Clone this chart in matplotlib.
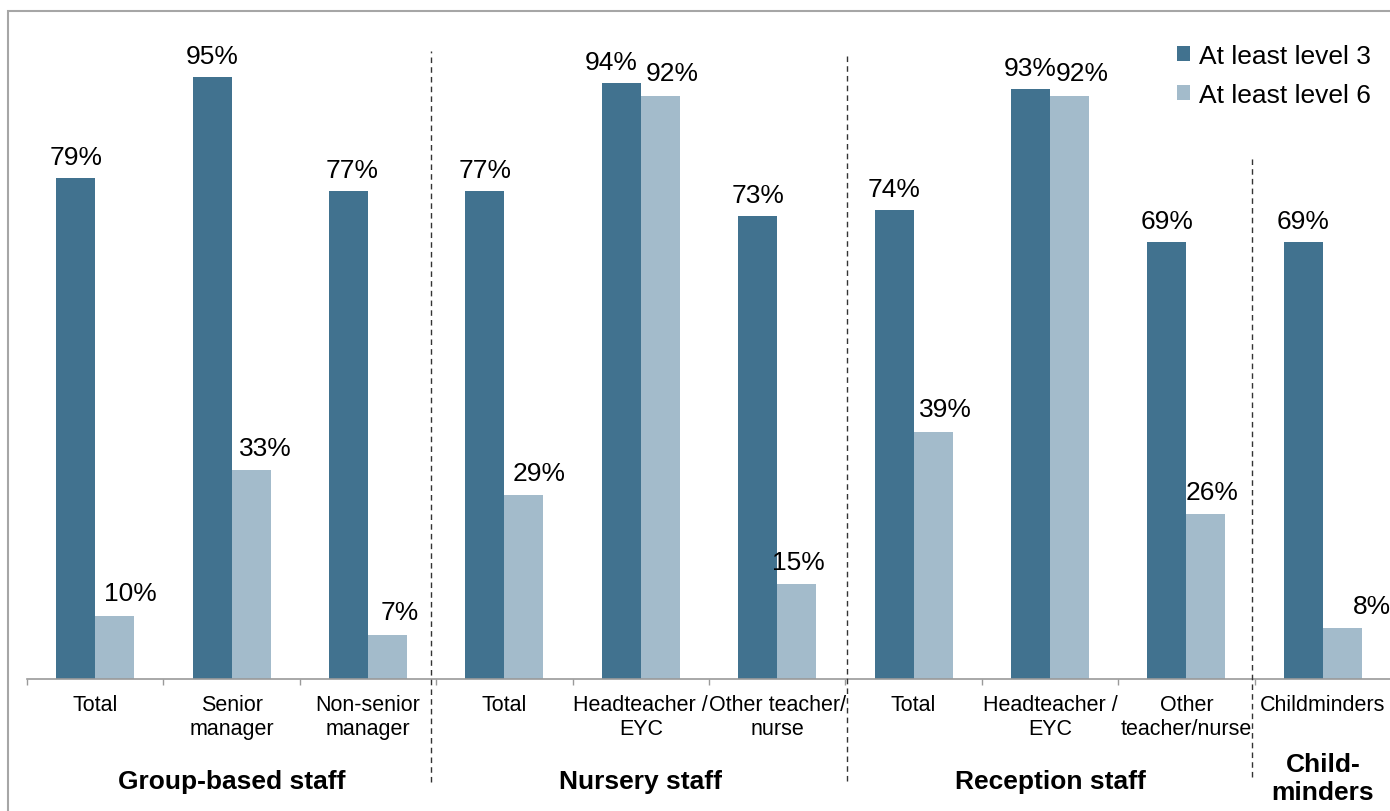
import matplotlib
matplotlib.use("Agg")
import matplotlib.pyplot as plt
import matplotlib.transforms as mtransforms
from matplotlib.patches import Rectangle
import numpy as np

plt.rcParams['font.family'] = ['Liberation Sans', 'DejaVu Sans']

# ---- data ----
categories = ["Total", "Senior\nmanager", "Non-senior\nmanager",
              "Total", "Headteacher /\nEYC", "Other teacher/\nnurse",
              "Total", "Headteacher /\nEYC", "Other\nteacher/nurse",
              "Childminders"]
level3 = [79, 95, 77, 77, 94, 73, 74, 93, 69, 69]
level6 = [10, 33, 7, 29, 92, 15, 39, 92, 26, 8]
series_names = ["At least level 3", "At least level 6"]
groups = ["Group-based staff", "Nursery staff", "Reception staff", "Child-\nminders"]
group_sizes = [3, 3, 3, 1]

# ---- style ----
dark = "#41728F"
light = "#A3BBCB"
dark_label_nudge_px = [0, 0, 4, 0, -10, 0, 0, 0, 0, 0]
light_label_nudge_px = [16, 14, 12, 15, 12, 2, 12, 13, 6, 30]
divider_nudge_px = [-5, 2, -3]

W, H = 1390, 812
fig = plt.figure(figsize=(W / 100, H / 100), dpi=100)
fig.patch.set_facecolor("white")

# outer frame
fig.patches.append(Rectangle((8 / W, -0.05), 1.1, (H - 12) / H + 0.05,
                             transform=fig.transFigure, fill=False,
                             edgecolor="#A6A6A6", linewidth=1.5, zorder=0))

ax_left, ax_right = 27, 1391
ax_bottom, ax_top = 680, 46
ax = fig.add_axes([ax_left / W, (H - ax_bottom) / H,
                   (ax_right - ax_left) / W, (ax_bottom - ax_top) / H])
ax.set_facecolor("none")

x = np.arange(len(categories))
bw = 0.286
b1 = ax.bar(x - bw / 2, level3, bw, color=dark, label=series_names[0], zorder=2)
b2 = ax.bar(x + bw / 2, level6, bw, color=light, label=series_names[1], zorder=2)

ax.set_xlim(-0.5, len(categories) - 0.5)
ax.set_ylim(0, 100)

for i, v in enumerate(level3):
    ax.annotate(f"{v}%", (x[i] - bw / 2, v), xytext=(dark_label_nudge_px[i] * 0.72, 10),
                textcoords="offset points", ha="center", va="baseline", fontsize=19)
for i, v in enumerate(level6):
    ax.annotate(f"{v}%", (x[i] + bw / 2, v), xytext=(light_label_nudge_px[i] * 0.72, 11),
                textcoords="offset points", ha="center", va="baseline", fontsize=19,
                annotation_clip=False)

for s in ["top", "right", "left"]:
    ax.spines[s].set_visible(False)
ax.spines["bottom"].set_color("#9A9A9A")
ax.spines["bottom"].set_linewidth(1.2)
ax.set_yticks([])

ax.set_xticks(x)
ax.set_xticklabels(categories, fontsize=15.5, linespacing=1.15)
ax.tick_params(axis="x", which="major", length=0, pad=11)
ax.set_xticks(np.arange(len(categories) + 1) - 0.5, minor=True)
ax.tick_params(axis="x", which="minor", length=4.5, width=1, color="#9A9A9A", direction="out")

# group dividers and labels
blend = mtransforms.blended_transform_factory(ax.transData, fig.transFigure)
px_x = mtransforms.ScaledTranslation(0, 0, fig.dpi_scale_trans)
divider_tops = [52, 56, 159]
divider_bottoms = [783, 782, 778]
start = 0
bounds = []
for gs in group_sizes:
    bounds.append((start, start + gs - 1))
    start += gs
for k in range(len(groups) - 1):
    xb = bounds[k][1] + 0.5
    tr = blend + mtransforms.ScaledTranslation(divider_nudge_px[k] / 100, 0, fig.dpi_scale_trans)
    ax.plot([xb, xb], [(H - divider_bottoms[k]) / H, (H - divider_tops[k]) / H],
            transform=tr, color="#333333", linewidth=1.0,
            linestyle=(0, (4, 3)), clip_on=False, zorder=3)
for k, g in enumerate(groups):
    xc = (bounds[k][0] + bounds[k][1]) / 2
    yc = 779 if "\n" in g else 782
    ax.text(xc, (H - yc) / H, g, transform=blend, ha="center", va="center",
            fontsize=19, fontweight="bold", linespacing=1.2, clip_on=False)

leg = ax.legend(loc="upper left", bbox_to_anchor=(1177 / W, (H - 45) / H),
                bbox_transform=fig.transFigure, frameon=False, fontsize=19,
                handlelength=0.5, handleheight=0.5, handletextpad=0.35,
                labelspacing=0.55, borderpad=0, borderaxespad=0)

fig.savefig("out.png", dpi=100, facecolor="white")
